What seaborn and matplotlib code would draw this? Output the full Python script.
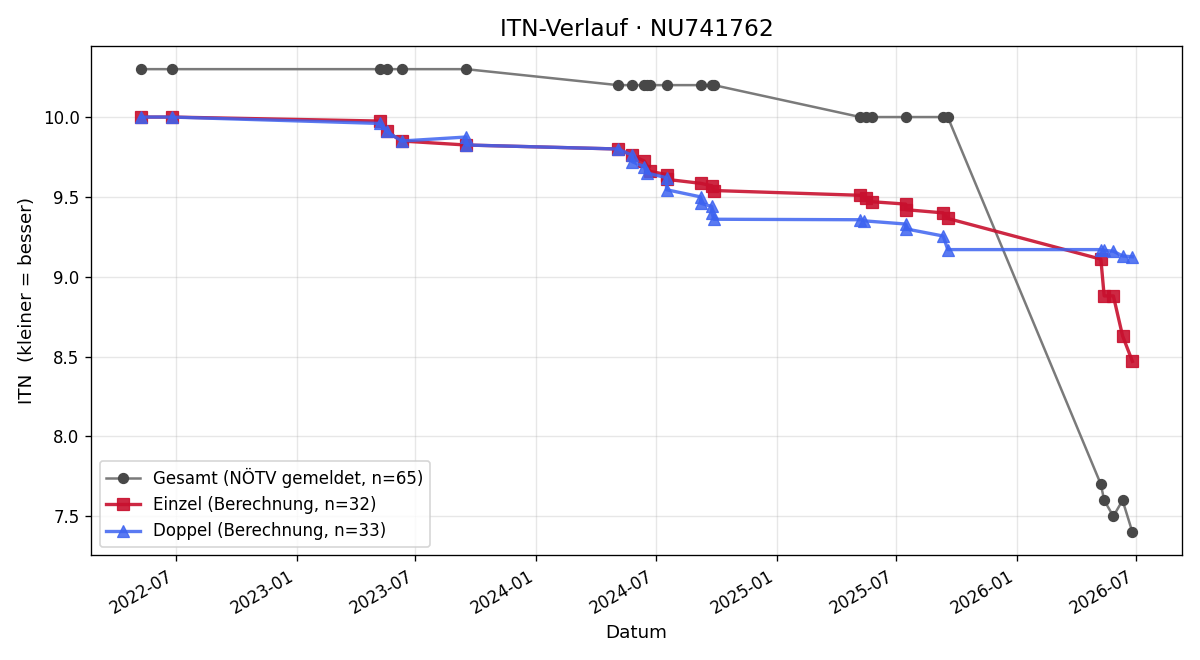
import matplotlib
matplotlib.use("Agg")
import matplotlib.pyplot as plt
import matplotlib.dates as mdates
import seaborn as sns
import pandas as pd

gesamt_dates = ["2022-05-09", "2022-06-25", "2023-05-08", "2023-05-18", "2023-06-10", "2023-09-16",
                "2024-05-04", "2024-05-26", "2024-06-13", "2024-06-17", "2024-06-22", "2024-07-17",
                "2024-09-07", "2024-09-24", "2024-09-27", "2025-05-08", "2025-05-16", "2025-05-25",
                "2025-07-16", "2025-09-11", "2025-09-18", "2026-05-09", "2026-05-14", "2026-05-28",
                "2026-06-11", "2026-06-26"]
gesamt_vals = [10.3, 10.3, 10.3, 10.3, 10.3, 10.3,
               10.2, 10.2, 10.2, 10.2, 10.2, 10.2,
               10.2, 10.2, 10.2, 10.0, 10.0, 10.0,
               10.0, 10.0, 10.0, 7.7, 7.6, 7.5,
               7.6, 7.4]

einzel_dates = ["2022-05-09", "2022-06-25", "2023-05-08", "2023-05-18", "2023-06-10", "2023-09-16",
                "2024-05-04", "2024-05-26", "2024-06-13", "2024-06-22", "2024-07-17", "2024-07-17",
                "2024-09-07", "2024-09-24", "2024-09-27", "2025-05-08", "2025-05-16", "2025-05-25",
                "2025-07-16", "2025-07-16", "2025-09-11", "2025-09-18", "2026-05-09", "2026-05-14",
                "2026-05-28", "2026-06-11", "2026-06-26"]
einzel_vals = [10.0, 10.0, 9.975, 9.91, 9.85, 9.825,
               9.80, 9.76, 9.725, 9.66, 9.64, 9.61,
               9.585, 9.57, 9.54, 9.51, 9.49, 9.47,
               9.455, 9.42, 9.40, 9.365, 9.11, 8.88,
               8.88, 8.63, 8.47]

doppel_dates = ["2022-05-09", "2022-06-25", "2023-05-08", "2023-05-18", "2023-06-10", "2023-09-16",
                "2023-09-16", "2024-05-04", "2024-05-26", "2024-05-26", "2024-06-13", "2024-06-17",
                "2024-07-17", "2024-07-17", "2024-09-07", "2024-09-07", "2024-09-24", "2024-09-24",
                "2024-09-27", "2025-05-08", "2025-05-14", "2025-07-16", "2025-07-16", "2025-09-11",
                "2025-09-18", "2026-05-09", "2026-05-14", "2026-05-28", "2026-06-11", "2026-06-26"]
doppel_vals = [10.0, 10.0, 9.96, 9.91, 9.85, 9.875,
               9.825, 9.80, 9.76, 9.72, 9.69, 9.65,
               9.62, 9.545, 9.50, 9.46, 9.44, 9.40,
               9.36, 9.357, 9.35, 9.33, 9.30, 9.255,
               9.17, 9.17, 9.165, 9.16, 9.13, 9.125]

labels = ["Gesamt (NÖTV gemeldet, n=65)", "Einzel (Berechnung, n=32)", "Doppel (Berechnung, n=33)"]

df_g = pd.DataFrame({"Datum": pd.to_datetime(gesamt_dates), "ITN": gesamt_vals})
df_e = pd.DataFrame({"Datum": pd.to_datetime(einzel_dates), "ITN": einzel_vals})
df_d = pd.DataFrame({"Datum": pd.to_datetime(doppel_dates), "ITN": doppel_vals})

plt.rcParams["font.family"] = ["DejaVu Sans"]

fig, ax = plt.subplots(figsize=(10, 5.5), dpi=120)

sns.lineplot(data=df_g, x="Datum", y="ITN", ax=ax, estimator=None, sort=False,
             color="#7a7a7a", lw=1.5, marker="o", markersize=6,
             markerfacecolor="#484848", markeredgecolor="#484848", label=labels[0])
sns.lineplot(data=df_e, x="Datum", y="ITN", ax=ax, estimator=None, sort=False,
             color="#c8102e", alpha=0.9, lw=2.0, marker="s", markersize=7,
             markeredgecolor="#c8102e", label=labels[1])
sns.lineplot(data=df_d, x="Datum", y="ITN", ax=ax, estimator=None, sort=False,
             color="#3d63f0", alpha=0.85, lw=2.0, marker="^", markersize=7,
             markeredgecolor="#3d63f0", label=labels[2])

ax.set_title("ITN-Verlauf · NU741762", fontsize=14)
ax.set_xlabel("Datum", fontsize=11)
ax.set_ylabel("ITN  (kleiner = besser)", fontsize=11)
ax.tick_params(labelsize=10)
ax.grid(True, alpha=0.3)
ax.xaxis.set_major_locator(mdates.MonthLocator(bymonth=[1, 7]))
ax.xaxis.set_major_formatter(mdates.DateFormatter("%Y-%m"))
ax.legend(loc="lower left", fontsize=10)
fig.autofmt_xdate()
fig.tight_layout()
fig.savefig("out.png", dpi=120)
